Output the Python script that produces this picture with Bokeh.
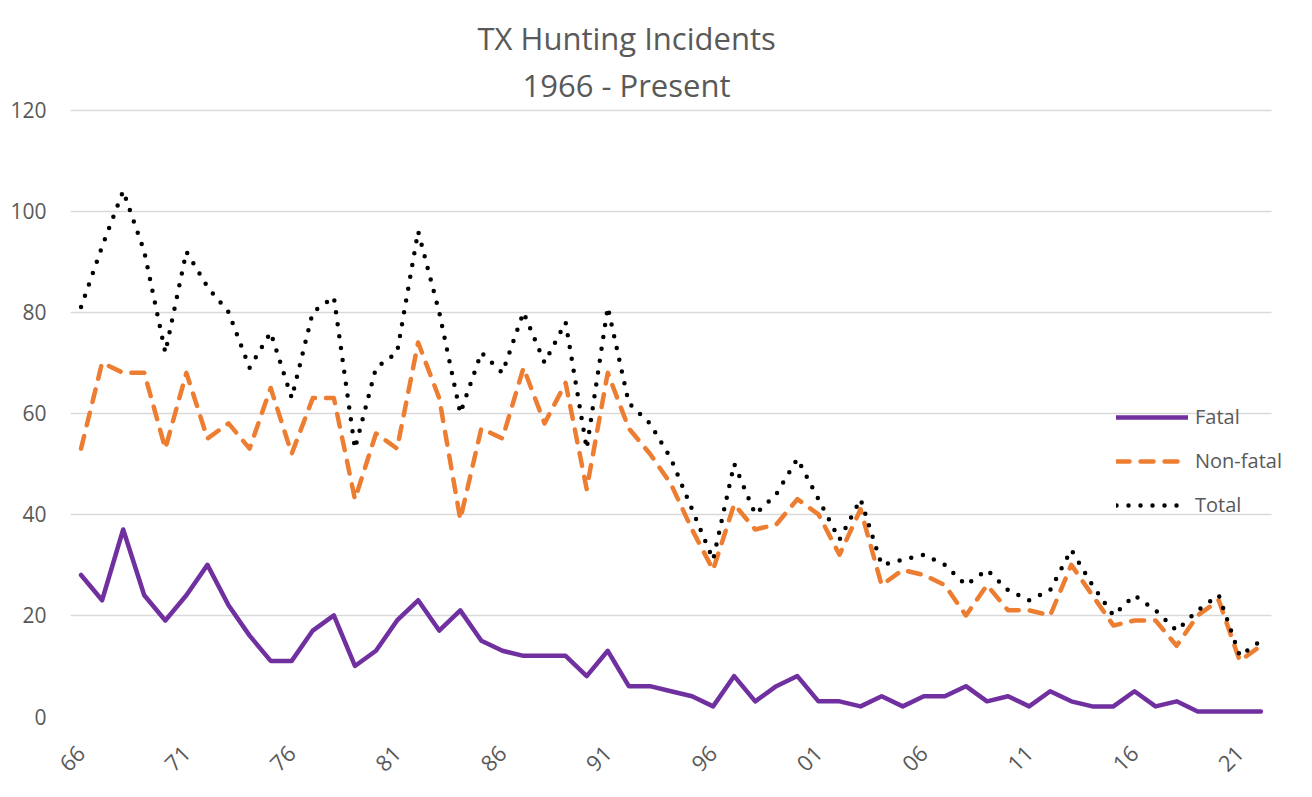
from bokeh.plotting import figure
from bokeh.models import Range1d, FixedTicker, Legend, LegendItem, Title
from bokeh.embed import file_html
from bokeh.resources import INLINE

# ---- data ----
years = list(range(1966, 2023))
fatal = [28, 23, 37, 24, 19, 24, 30, 22, 16, 11,
         11, 17, 20, 10, 13, 19, 23, 17, 21, 15,
         13, 12, 12, 12, 8, 13, 6, 6, 5, 4,
         2, 8, 3, 6, 8, 3, 3, 2, 4, 2,
         4, 4, 6, 3, 4, 2, 5, 3, 2, 2,
         5, 2, 3, 1, 1, 1, 1]
nonfatal = [53, 70, 68, 68, 53, 68, 55, 58, 53, 65,
            52, 63, 63, 43, 56, 53, 74, 63, 39, 57,
            55, 69, 58, 66, 45, 68, 57, 52, 46, 37,
            29, 42, 37, 38, 43, 40, 32, 41, 26, 29,
            28, 26, 20, 26, 21, 21, 20, 30, 24, 18,
            19, 19, 14, 20, 23, 11, 14]
total = [81, 93, 104, 92, 72, 92, 85, 80, 69, 76,
         63, 80, 83, 53, 69, 72, 96, 80, 60, 72,
         68, 80, 70, 78, 53, 81, 62, 58, 51, 41,
         31, 50, 40, 44, 51, 43, 35, 43, 30, 31,
         32, 30, 26, 29, 25, 23, 25, 33, 26, 20,
         24, 21, 17, 21, 24, 12, 15]
tick_years = [1966, 1971, 1976, 1981, 1986, 1991, 1996, 2001, 2006, 2011, 2016, 2021]
tick_labels = ["66", "71", "76", "81", "86", "91", "96", "01", "06", "11", "16", "21"]
y_ticks = [0, 20, 40, 60, 80, 100, 120]
series_names = ["Fatal", "Non-fatal", "Total"]
title_lines = ["TX Hunting Incidents", "1966 - Present"]

FONT = "Open Sans"
GRAY = "#595959"

p = figure(width=1296, height=781, output_backend="svg", toolbar_location=None,
           x_range=Range1d(1965.5, 2023.69), y_range=Range1d(0, 120.3),
           min_border_left=70, min_border_right=0, min_border_top=108,
           min_border_bottom=61)
p.outline_line_color = None
p.background_fill_color = "white"
p.border_fill_color = "white"

r1 = p.line(years, fatal, line_color="#7030A0", line_width=4.5,
            line_join="round", line_cap="round")
r2 = p.line(years, nonfatal, line_color="#ED7D31", line_width=4.5,
            line_dash="13 11", line_join="round", line_cap="round")
r3 = p.line(years, total, line_color="black", line_width=4.5,
            line_dash="0 12", line_join="round", line_cap="round")

# axes
p.yaxis.ticker = FixedTicker(ticks=y_ticks)
p.yaxis.axis_line_color = None
p.yaxis.major_tick_line_color = None
p.yaxis.minor_tick_line_color = None
p.yaxis.major_label_standoff = 18
p.yaxis.major_label_text_font = FONT
p.yaxis.major_label_text_font_size = "21px"
p.yaxis.major_label_text_color = GRAY

p.xaxis.ticker = FixedTicker(ticks=tick_years)
p.xaxis.major_label_overrides = dict(zip(tick_years, tick_labels))
p.xaxis.major_label_orientation = 0.785398
p.xaxis.axis_line_color = None
p.xaxis.major_tick_line_color = None
p.xaxis.minor_tick_line_color = None
p.xaxis.major_label_standoff = 27
p.xaxis.major_label_text_font = FONT
p.xaxis.major_label_text_font_size = "22px"
p.xaxis.major_label_text_color = GRAY

p.xgrid.grid_line_color = None
p.ygrid.ticker = FixedTicker(ticks=y_ticks)
p.ygrid.grid_line_color = "#d9d9d9"
p.ygrid.grid_line_width = 1.3
p.ygrid.cross_bounds = (1965.5, 2022.5)

# legend
legend = Legend(items=[LegendItem(label=series_names[0], renderers=[r1]),
                       LegendItem(label=series_names[1], renderers=[r2]),
                       LegendItem(label=series_names[2], renderers=[r3])],
                location=(1046, 198), orientation="vertical",
                glyph_width=72, glyph_height=20, label_height=20,
                label_standoff=7, spacing=17, padding=10,
                label_text_font=FONT, label_text_font_size="20px",
                label_text_color=GRAY, border_line_color=None,
                background_fill_alpha=0)
p.add_layout(legend)

# title (two lines); first added sits closest to the plot
p.add_layout(Title(text=title_lines[1], align="left", offset=452,
                   text_font=FONT, text_font_size="31px", text_color=GRAY,
                   text_font_style="normal", standoff=6), "above")
p.add_layout(Title(text=title_lines[0], align="left", offset=407,
                   text_font=FONT, text_font_size="31px", text_color=GRAY,
                   text_font_style="normal", standoff=0), "above")

open("out.html", "w").write(file_html(p, INLINE))
